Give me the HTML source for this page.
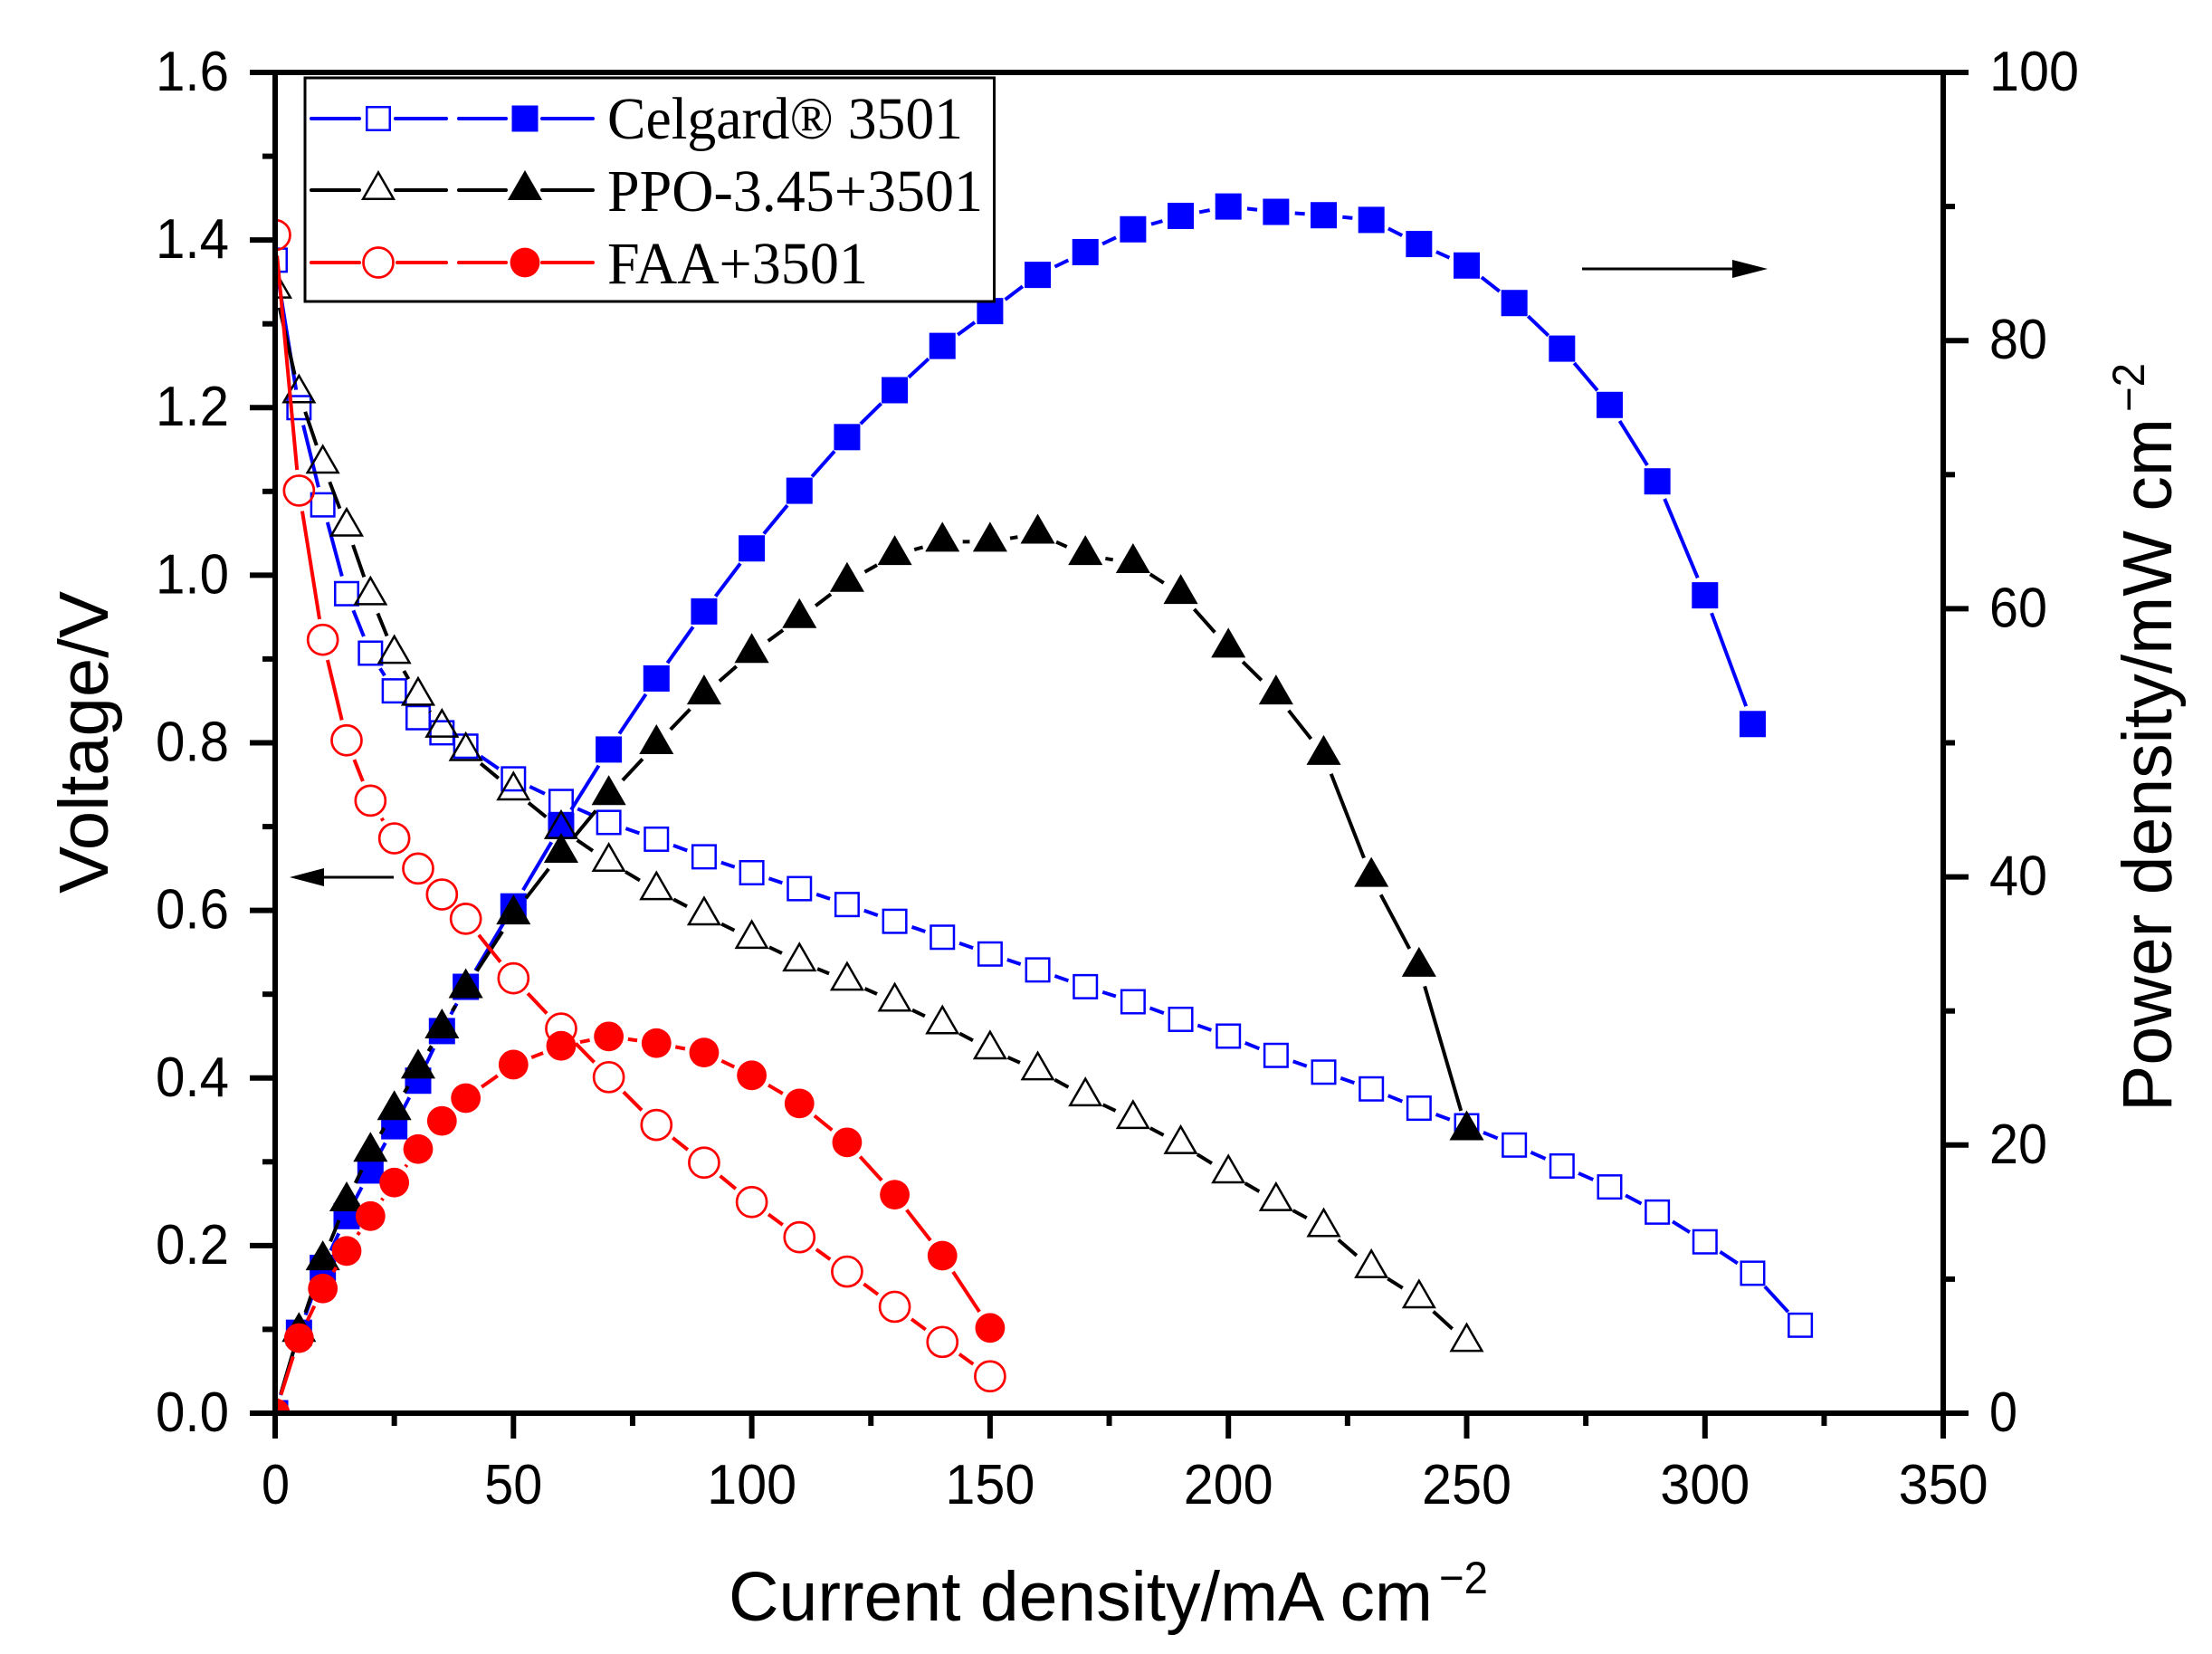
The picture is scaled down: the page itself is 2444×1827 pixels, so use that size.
<!DOCTYPE html>
<html>
<head>
<meta charset="utf-8">
<style>
html,body{margin:0;padding:0;background:#fff}
svg{display:block}
</style>
</head>
<body>
<svg width="2444" height="1827" viewBox="0 0 2444 1827">
<rect x="0" y="0" width="2444" height="1827" fill="#fff"/>
<defs>
<clipPath id="pc"><rect x="304" y="80" width="1843" height="1481"/></clipPath>
<!-- V-space markers -->
<g id="a1" transform="scale(0.189897 -0.00108038)"><rect x="-12.75" y="-12.75" width="25.5" height="25.5" fill="none" stroke="#0000ff" stroke-width="2.5"/></g>
<g id="a2" transform="scale(0.189897 -0.00108038)"><polygon points="0,-19.5 16.89,9.75 -16.89,9.75" fill="none" stroke="#000" stroke-width="2.5"/></g>
<g id="a3" transform="scale(0.189897 -0.00108038)"><circle r="16.5" fill="none" stroke="#ff0000" stroke-width="2.7"/></g>
<!-- P-space markers -->
<g id="b1" transform="scale(0.189897 -0.0675219)"><rect x="-14.5" y="-14.5" width="29" height="29" fill="#0000ff"/></g>
<g id="b2" transform="scale(0.189897 -0.0675219)"><polygon points="0,-22 19.05,11 -19.05,11" fill="#000"/></g>
<g id="b3" transform="scale(0.189897 -0.0675219)"><circle r="16.4" fill="#ff0000"/></g>
<!-- gap circles -->
<g id="g1" transform="scale(0.189897 -0.00108038)"><circle r="20" fill="#000"/></g>
<g id="g2" transform="scale(0.189897 -0.00108038)"><circle r="21.5" fill="#000"/></g>
<g id="g3" transform="scale(0.189897 -0.00108038)"><circle r="23" fill="#000"/></g>
<g id="h1" transform="scale(0.189897 -0.0675219)"><circle r="21" fill="#000"/></g>
<g id="h2" transform="scale(0.189897 -0.0675219)"><circle r="22.5" fill="#000"/></g>
<g id="h3" transform="scale(0.189897 -0.0675219)"><circle r="21.5" fill="#000"/></g>

<mask id="mCV" maskUnits="userSpaceOnUse" x="-100" y="-10" width="600" height="20">
<rect x="-100" y="-10" width="600" height="20" fill="#fff"/>
<use href="#g1" x="0" y="1.376"/><use href="#g1" x="5" y="1.2"/><use href="#g1" x="10" y="1.084"/><use href="#g1" x="15" y="0.978"/><use href="#g1" x="20" y="0.907"/><use href="#g1" x="25" y="0.862"/><use href="#g1" x="30" y="0.83"/><use href="#g1" x="35" y="0.812"/><use href="#g1" x="40" y="0.796"/><use href="#g1" x="50" y="0.757"/><use href="#g1" x="60" y="0.73"/><use href="#g1" x="70" y="0.705"/><use href="#g1" x="80" y="0.685"/><use href="#g1" x="90" y="0.664"/><use href="#g1" x="100" y="0.645"/><use href="#g1" x="110" y="0.626"/><use href="#g1" x="120" y="0.607"/><use href="#g1" x="130" y="0.587"/><use href="#g1" x="140" y="0.568"/><use href="#g1" x="150" y="0.548"/><use href="#g1" x="160" y="0.529"/><use href="#g1" x="170" y="0.509"/><use href="#g1" x="180" y="0.491"/><use href="#g1" x="190" y="0.47"/><use href="#g1" x="200" y="0.45"/><use href="#g1" x="210" y="0.427"/><use href="#g1" x="220" y="0.407"/><use href="#g1" x="230" y="0.387"/><use href="#g1" x="240" y="0.364"/><use href="#g1" x="250" y="0.343"/><use href="#g1" x="260" y="0.32"/><use href="#g1" x="270" y="0.295"/><use href="#g1" x="280" y="0.27"/><use href="#g1" x="290" y="0.24"/><use href="#g1" x="300" y="0.2045"/><use href="#g1" x="310" y="0.167"/><use href="#g1" x="320" y="0.105"/>
</mask>

<mask id="mCP" maskUnits="userSpaceOnUse" x="-100" y="-200" width="600" height="400">
<rect x="-100" y="-200" width="600" height="400" fill="#fff"/>
<use href="#h1" x="0" y="0"/><use href="#h1" x="5" y="6"/><use href="#h1" x="10" y="10.84"/><use href="#h1" x="15" y="14.7"/><use href="#h1" x="20" y="18.1"/><use href="#h1" x="25" y="21.4"/><use href="#h1" x="30" y="24.8"/><use href="#h1" x="35" y="28.5"/><use href="#h1" x="40" y="31.8"/><use href="#h1" x="50" y="37.8"/><use href="#h1" x="60" y="43.8"/><use href="#h1" x="70" y="49.5"/><use href="#h1" x="80" y="54.8"/><use href="#h1" x="90" y="59.8"/><use href="#h1" x="100" y="64.5"/><use href="#h1" x="110" y="68.8"/><use href="#h1" x="120" y="72.8"/><use href="#h1" x="130" y="76.3"/><use href="#h1" x="140" y="79.6"/><use href="#h1" x="150" y="82.2"/><use href="#h1" x="160" y="84.9"/><use href="#h1" x="170" y="86.6"/><use href="#h1" x="180" y="88.3"/><use href="#h1" x="190" y="89.3"/><use href="#h1" x="200" y="90"/><use href="#h1" x="210" y="89.6"/><use href="#h1" x="220" y="89.35"/><use href="#h1" x="230" y="89"/><use href="#h1" x="240" y="87.2"/><use href="#h1" x="250" y="85.6"/><use href="#h1" x="260" y="82.8"/><use href="#h1" x="270" y="79.4"/><use href="#h1" x="280" y="75.2"/><use href="#h1" x="290" y="69.5"/><use href="#h1" x="300" y="61"/><use href="#h1" x="310" y="51.4"/>
</mask>

<mask id="mPV" maskUnits="userSpaceOnUse" x="-100" y="-10" width="600" height="20">
<rect x="-100" y="-10" width="600" height="20" fill="#fff"/>
<use href="#g2" x="0" y="1.342"/><use href="#g2" x="5" y="1.217"/><use href="#g2" x="10" y="1.133"/><use href="#g2" x="15" y="1.058"/><use href="#g2" x="20" y="0.976"/><use href="#g2" x="25" y="0.906"/><use href="#g2" x="30" y="0.856"/><use href="#g2" x="35" y="0.818"/><use href="#g2" x="40" y="0.79"/><use href="#g2" x="50" y="0.743"/><use href="#g2" x="60" y="0.697"/><use href="#g2" x="70" y="0.658"/><use href="#g2" x="80" y="0.624"/><use href="#g2" x="90" y="0.594"/><use href="#g2" x="100" y="0.566"/><use href="#g2" x="110" y="0.539"/><use href="#g2" x="120" y="0.516"/><use href="#g2" x="130" y="0.491"/><use href="#g2" x="140" y="0.464"/><use href="#g2" x="150" y="0.434"/><use href="#g2" x="160" y="0.409"/><use href="#g2" x="170" y="0.378"/><use href="#g2" x="180" y="0.351"/><use href="#g2" x="190" y="0.321"/><use href="#g2" x="200" y="0.286"/><use href="#g2" x="210" y="0.253"/><use href="#g2" x="220" y="0.222"/><use href="#g2" x="230" y="0.173"/><use href="#g2" x="240" y="0.137"/><use href="#g2" x="250" y="0.085"/>
</mask>

<mask id="mPP" maskUnits="userSpaceOnUse" x="-100" y="-200" width="600" height="400">
<rect x="-100" y="-200" width="600" height="400" fill="#fff"/>
<use href="#h2" x="0" y="0"/><use href="#h2" x="5" y="6.06"/><use href="#h2" x="10" y="11.4"/><use href="#h2" x="15" y="15.8"/><use href="#h2" x="20" y="19.5"/><use href="#h2" x="25" y="22.6"/><use href="#h2" x="30" y="25.7"/><use href="#h2" x="35" y="28.7"/><use href="#h2" x="40" y="31.7"/><use href="#h2" x="50" y="37.2"/><use href="#h2" x="60" y="41.8"/><use href="#h2" x="70" y="46.1"/><use href="#h2" x="80" y="49.9"/><use href="#h2" x="90" y="53.6"/><use href="#h2" x="100" y="56.7"/><use href="#h2" x="110" y="59.3"/><use href="#h2" x="120" y="62"/><use href="#h2" x="130" y="64"/><use href="#h2" x="140" y="65"/><use href="#h2" x="150" y="65"/><use href="#h2" x="160" y="65.6"/><use href="#h2" x="170" y="64"/><use href="#h2" x="180" y="63.4"/><use href="#h2" x="190" y="61.1"/><use href="#h2" x="200" y="57.1"/><use href="#h2" x="210" y="53.6"/><use href="#h2" x="220" y="49.1"/><use href="#h2" x="230" y="40"/><use href="#h2" x="240" y="33.3"/><use href="#h2" x="250" y="21.1"/>
</mask>

<mask id="mFV" maskUnits="userSpaceOnUse" x="-100" y="-10" width="600" height="20">
<rect x="-100" y="-10" width="600" height="20" fill="#fff"/>
<use href="#g3" x="0" y="1.406"/><use href="#g3" x="5" y="1.101"/><use href="#g3" x="10" y="0.923"/><use href="#g3" x="15" y="0.803"/><use href="#g3" x="20" y="0.731"/><use href="#g3" x="25" y="0.686"/><use href="#g3" x="30" y="0.65"/><use href="#g3" x="35" y="0.619"/><use href="#g3" x="40" y="0.59"/><use href="#g3" x="50" y="0.519"/><use href="#g3" x="60" y="0.459"/><use href="#g3" x="70" y="0.401"/><use href="#g3" x="80" y="0.344"/><use href="#g3" x="90" y="0.299"/><use href="#g3" x="100" y="0.252"/><use href="#g3" x="110" y="0.21"/><use href="#g3" x="120" y="0.169"/><use href="#g3" x="130" y="0.127"/><use href="#g3" x="140" y="0.085"/><use href="#g3" x="150" y="0.044"/>
</mask>

<mask id="mFP" maskUnits="userSpaceOnUse" x="-100" y="-200" width="600" height="400">
<rect x="-100" y="-200" width="600" height="400" fill="#fff"/>
<use href="#h3" x="0" y="0"/><use href="#h3" x="5" y="5.6"/><use href="#h3" x="10" y="9.3"/><use href="#h3" x="15" y="12.1"/><use href="#h3" x="20" y="14.7"/><use href="#h3" x="25" y="17.2"/><use href="#h3" x="30" y="19.7"/><use href="#h3" x="35" y="21.8"/><use href="#h3" x="40" y="23.5"/><use href="#h3" x="50" y="26"/><use href="#h3" x="60" y="27.4"/><use href="#h3" x="70" y="28.1"/><use href="#h3" x="80" y="27.6"/><use href="#h3" x="90" y="26.9"/><use href="#h3" x="100" y="25.2"/><use href="#h3" x="110" y="23.1"/><use href="#h3" x="120" y="20.2"/><use href="#h3" x="130" y="16.3"/><use href="#h3" x="140" y="11.75"/><use href="#h3" x="150" y="6.36"/>
</mask>
</defs>

<!-- DATA -->
<g clip-path="url(#pc)">
 <!-- Celgard V -->
 <g transform="translate(304 1561) scale(5.266 -925.6)">
  <polyline mask="url(#mCV)" fill="none" stroke="#0000ff" stroke-width="4" vector-effect="non-scaling-stroke" stroke-linejoin="round" points="0,1.376 5,1.2 10,1.084 15,0.978 20,0.907 25,0.862 30,0.83 35,0.812 40,0.796 50,0.757 60,0.73 70,0.705 80,0.685 90,0.664 100,0.645 110,0.626 120,0.607 130,0.587 140,0.568 150,0.548 160,0.529 170,0.509 180,0.491 190,0.47 200,0.45 210,0.427 220,0.407 230,0.387 240,0.364 250,0.343 260,0.32 270,0.295 280,0.27 290,0.24 300,0.2045 310,0.167 320,0.105"/>
  <use href="#a1" x="0" y="1.376"/><use href="#a1" x="5" y="1.2"/><use href="#a1" x="10" y="1.084"/><use href="#a1" x="15" y="0.978"/><use href="#a1" x="20" y="0.907"/><use href="#a1" x="25" y="0.862"/><use href="#a1" x="30" y="0.83"/><use href="#a1" x="35" y="0.812"/><use href="#a1" x="40" y="0.796"/><use href="#a1" x="50" y="0.757"/><use href="#a1" x="60" y="0.73"/><use href="#a1" x="70" y="0.705"/><use href="#a1" x="80" y="0.685"/><use href="#a1" x="90" y="0.664"/><use href="#a1" x="100" y="0.645"/><use href="#a1" x="110" y="0.626"/><use href="#a1" x="120" y="0.607"/><use href="#a1" x="130" y="0.587"/><use href="#a1" x="140" y="0.568"/><use href="#a1" x="150" y="0.548"/><use href="#a1" x="160" y="0.529"/><use href="#a1" x="170" y="0.509"/><use href="#a1" x="180" y="0.491"/><use href="#a1" x="190" y="0.47"/><use href="#a1" x="200" y="0.45"/><use href="#a1" x="210" y="0.427"/><use href="#a1" x="220" y="0.407"/><use href="#a1" x="230" y="0.387"/><use href="#a1" x="240" y="0.364"/><use href="#a1" x="250" y="0.343"/><use href="#a1" x="260" y="0.32"/><use href="#a1" x="270" y="0.295"/><use href="#a1" x="280" y="0.27"/><use href="#a1" x="290" y="0.24"/><use href="#a1" x="300" y="0.2045"/><use href="#a1" x="310" y="0.167"/><use href="#a1" x="320" y="0.105"/>
 </g>
 <!-- Celgard P -->
 <g transform="translate(304 1561) scale(5.266 -14.81)">
  <polyline mask="url(#mCP)" fill="none" stroke="#0000ff" stroke-width="4" vector-effect="non-scaling-stroke" stroke-linejoin="round" points="0,0 5,6 10,10.84 15,14.7 20,18.1 25,21.4 30,24.8 35,28.5 40,31.8 50,37.8 60,43.8 70,49.5 80,54.8 90,59.8 100,64.5 110,68.8 120,72.8 130,76.3 140,79.6 150,82.2 160,84.9 170,86.6 180,88.3 190,89.3 200,90 210,89.6 220,89.35 230,89 240,87.2 250,85.6 260,82.8 270,79.4 280,75.2 290,69.5 300,61 310,51.4"/>
  <use href="#b1" x="0" y="0"/><use href="#b1" x="5" y="6"/><use href="#b1" x="10" y="10.84"/><use href="#b1" x="15" y="14.7"/><use href="#b1" x="20" y="18.1"/><use href="#b1" x="25" y="21.4"/><use href="#b1" x="30" y="24.8"/><use href="#b1" x="35" y="28.5"/><use href="#b1" x="40" y="31.8"/><use href="#b1" x="50" y="37.8"/><use href="#b1" x="60" y="43.8"/><use href="#b1" x="70" y="49.5"/><use href="#b1" x="80" y="54.8"/><use href="#b1" x="90" y="59.8"/><use href="#b1" x="100" y="64.5"/><use href="#b1" x="110" y="68.8"/><use href="#b1" x="120" y="72.8"/><use href="#b1" x="130" y="76.3"/><use href="#b1" x="140" y="79.6"/><use href="#b1" x="150" y="82.2"/><use href="#b1" x="160" y="84.9"/><use href="#b1" x="170" y="86.6"/><use href="#b1" x="180" y="88.3"/><use href="#b1" x="190" y="89.3"/><use href="#b1" x="200" y="90"/><use href="#b1" x="210" y="89.6"/><use href="#b1" x="220" y="89.35"/><use href="#b1" x="230" y="89"/><use href="#b1" x="240" y="87.2"/><use href="#b1" x="250" y="85.6"/><use href="#b1" x="260" y="82.8"/><use href="#b1" x="270" y="79.4"/><use href="#b1" x="280" y="75.2"/><use href="#b1" x="290" y="69.5"/><use href="#b1" x="300" y="61"/><use href="#b1" x="310" y="51.4"/>
 </g>
 <!-- PPO V -->
 <g transform="translate(304 1561) scale(5.266 -925.6)">
  <polyline mask="url(#mPV)" fill="none" stroke="#000" stroke-width="4" vector-effect="non-scaling-stroke" stroke-linejoin="round" points="0,1.342 5,1.217 10,1.133 15,1.058 20,0.976 25,0.906 30,0.856 35,0.818 40,0.79 50,0.743 60,0.697 70,0.658 80,0.624 90,0.594 100,0.566 110,0.539 120,0.516 130,0.491 140,0.464 150,0.434 160,0.409 170,0.378 180,0.351 190,0.321 200,0.286 210,0.253 220,0.222 230,0.173 240,0.137 250,0.085"/>
  <use href="#a2" x="0" y="1.342"/><use href="#a2" x="5" y="1.217"/><use href="#a2" x="10" y="1.133"/><use href="#a2" x="15" y="1.058"/><use href="#a2" x="20" y="0.976"/><use href="#a2" x="25" y="0.906"/><use href="#a2" x="30" y="0.856"/><use href="#a2" x="35" y="0.818"/><use href="#a2" x="40" y="0.79"/><use href="#a2" x="50" y="0.743"/><use href="#a2" x="60" y="0.697"/><use href="#a2" x="70" y="0.658"/><use href="#a2" x="80" y="0.624"/><use href="#a2" x="90" y="0.594"/><use href="#a2" x="100" y="0.566"/><use href="#a2" x="110" y="0.539"/><use href="#a2" x="120" y="0.516"/><use href="#a2" x="130" y="0.491"/><use href="#a2" x="140" y="0.464"/><use href="#a2" x="150" y="0.434"/><use href="#a2" x="160" y="0.409"/><use href="#a2" x="170" y="0.378"/><use href="#a2" x="180" y="0.351"/><use href="#a2" x="190" y="0.321"/><use href="#a2" x="200" y="0.286"/><use href="#a2" x="210" y="0.253"/><use href="#a2" x="220" y="0.222"/><use href="#a2" x="230" y="0.173"/><use href="#a2" x="240" y="0.137"/><use href="#a2" x="250" y="0.085"/>
 </g>
 <!-- PPO P -->
 <g transform="translate(304 1561) scale(5.266 -14.81)">
  <polyline mask="url(#mPP)" fill="none" stroke="#000" stroke-width="4" vector-effect="non-scaling-stroke" stroke-linejoin="round" points="0,0 5,6.06 10,11.4 15,15.8 20,19.5 25,22.6 30,25.7 35,28.7 40,31.7 50,37.2 60,41.8 70,46.1 80,49.9 90,53.6 100,56.7 110,59.3 120,62 130,64 140,65 150,65 160,65.6 170,64 180,63.4 190,61.1 200,57.1 210,53.6 220,49.1 230,40 240,33.3 250,21.1"/>
  <use href="#b2" x="0" y="0"/><use href="#b2" x="5" y="6.06"/><use href="#b2" x="10" y="11.4"/><use href="#b2" x="15" y="15.8"/><use href="#b2" x="20" y="19.5"/><use href="#b2" x="25" y="22.6"/><use href="#b2" x="30" y="25.7"/><use href="#b2" x="35" y="28.7"/><use href="#b2" x="40" y="31.7"/><use href="#b2" x="50" y="37.2"/><use href="#b2" x="60" y="41.8"/><use href="#b2" x="70" y="46.1"/><use href="#b2" x="80" y="49.9"/><use href="#b2" x="90" y="53.6"/><use href="#b2" x="100" y="56.7"/><use href="#b2" x="110" y="59.3"/><use href="#b2" x="120" y="62"/><use href="#b2" x="130" y="64"/><use href="#b2" x="140" y="65"/><use href="#b2" x="150" y="65"/><use href="#b2" x="160" y="65.6"/><use href="#b2" x="170" y="64"/><use href="#b2" x="180" y="63.4"/><use href="#b2" x="190" y="61.1"/><use href="#b2" x="200" y="57.1"/><use href="#b2" x="210" y="53.6"/><use href="#b2" x="220" y="49.1"/><use href="#b2" x="230" y="40"/><use href="#b2" x="240" y="33.3"/><use href="#b2" x="250" y="21.1"/>
 </g>
 <!-- FAA V -->
 <g transform="translate(304 1561) scale(5.266 -925.6)">
  <polyline mask="url(#mFV)" fill="none" stroke="#ff0000" stroke-width="4" vector-effect="non-scaling-stroke" stroke-linejoin="round" points="0,1.406 5,1.101 10,0.923 15,0.803 20,0.731 25,0.686 30,0.65 35,0.619 40,0.59 50,0.519 60,0.459 70,0.401 80,0.344 90,0.299 100,0.252 110,0.21 120,0.169 130,0.127 140,0.085 150,0.044"/>
  <use href="#a3" x="0" y="1.406"/><use href="#a3" x="5" y="1.101"/><use href="#a3" x="10" y="0.923"/><use href="#a3" x="15" y="0.803"/><use href="#a3" x="20" y="0.731"/><use href="#a3" x="25" y="0.686"/><use href="#a3" x="30" y="0.65"/><use href="#a3" x="35" y="0.619"/><use href="#a3" x="40" y="0.59"/><use href="#a3" x="50" y="0.519"/><use href="#a3" x="60" y="0.459"/><use href="#a3" x="70" y="0.401"/><use href="#a3" x="80" y="0.344"/><use href="#a3" x="90" y="0.299"/><use href="#a3" x="100" y="0.252"/><use href="#a3" x="110" y="0.21"/><use href="#a3" x="120" y="0.169"/><use href="#a3" x="130" y="0.127"/><use href="#a3" x="140" y="0.085"/><use href="#a3" x="150" y="0.044"/>
 </g>
 <!-- FAA P -->
 <g transform="translate(304 1561) scale(5.266 -14.81)">
  <polyline mask="url(#mFP)" fill="none" stroke="#ff0000" stroke-width="4" vector-effect="non-scaling-stroke" stroke-linejoin="round" points="0,0 5,5.6 10,9.3 15,12.1 20,14.7 25,17.2 30,19.7 35,21.8 40,23.5 50,26 60,27.4 70,28.1 80,27.6 90,26.9 100,25.2 110,23.1 120,20.2 130,16.3 140,11.75 150,6.36"/>
  <use href="#b3" x="0" y="0"/><use href="#b3" x="5" y="5.6"/><use href="#b3" x="10" y="9.3"/><use href="#b3" x="15" y="12.1"/><use href="#b3" x="20" y="14.7"/><use href="#b3" x="25" y="17.2"/><use href="#b3" x="30" y="19.7"/><use href="#b3" x="35" y="21.8"/><use href="#b3" x="40" y="23.5"/><use href="#b3" x="50" y="26"/><use href="#b3" x="60" y="27.4"/><use href="#b3" x="70" y="28.1"/><use href="#b3" x="80" y="27.6"/><use href="#b3" x="90" y="26.9"/><use href="#b3" x="100" y="25.2"/><use href="#b3" x="110" y="23.1"/><use href="#b3" x="120" y="20.2"/><use href="#b3" x="130" y="16.3"/><use href="#b3" x="140" y="11.75"/><use href="#b3" x="150" y="6.36"/>
 </g>
</g>

<!-- AXES FRAME -->
<rect x="304" y="80" width="1843" height="1481" fill="none" stroke="#000" stroke-width="6"/>
<g stroke="#000" stroke-width="6">
 <!-- left major -->
 <line x1="276" y1="1561" x2="304" y2="1561"/><line x1="276" y1="1375.9" x2="304" y2="1375.9"/><line x1="276" y1="1190.8" x2="304" y2="1190.8"/><line x1="276" y1="1005.6" x2="304" y2="1005.6"/><line x1="276" y1="820.5" x2="304" y2="820.5"/><line x1="276" y1="635.4" x2="304" y2="635.4"/><line x1="276" y1="450.2" x2="304" y2="450.2"/><line x1="276" y1="265.1" x2="304" y2="265.1"/><line x1="276" y1="80" x2="304" y2="80"/>
 <!-- left minor -->
 <line x1="290" y1="1468.4" x2="304" y2="1468.4"/><line x1="290" y1="1283.3" x2="304" y2="1283.3"/><line x1="290" y1="1098.2" x2="304" y2="1098.2"/><line x1="290" y1="913.1" x2="304" y2="913.1"/><line x1="290" y1="727.9" x2="304" y2="727.9"/><line x1="290" y1="542.8" x2="304" y2="542.8"/><line x1="290" y1="357.7" x2="304" y2="357.7"/><line x1="290" y1="172.6" x2="304" y2="172.6"/>
 <!-- bottom major -->
 <line x1="304" y1="1561" x2="304" y2="1589"/><line x1="567.3" y1="1561" x2="567.3" y2="1589"/><line x1="830.6" y1="1561" x2="830.6" y2="1589"/><line x1="1093.9" y1="1561" x2="1093.9" y2="1589"/><line x1="1357.2" y1="1561" x2="1357.2" y2="1589"/><line x1="1620.5" y1="1561" x2="1620.5" y2="1589"/><line x1="1883.8" y1="1561" x2="1883.8" y2="1589"/><line x1="2147" y1="1561" x2="2147" y2="1589"/>
 <!-- bottom minor -->
 <line x1="435.65" y1="1561" x2="435.65" y2="1575"/><line x1="698.95" y1="1561" x2="698.95" y2="1575"/><line x1="962.25" y1="1561" x2="962.25" y2="1575"/><line x1="1225.55" y1="1561" x2="1225.55" y2="1575"/><line x1="1488.85" y1="1561" x2="1488.85" y2="1575"/><line x1="1752.15" y1="1561" x2="1752.15" y2="1575"/><line x1="2015.45" y1="1561" x2="2015.45" y2="1575"/>
 <!-- right major -->
 <line x1="2147" y1="1561" x2="2175" y2="1561"/><line x1="2147" y1="1264.8" x2="2175" y2="1264.8"/><line x1="2147" y1="968.6" x2="2175" y2="968.6"/><line x1="2147" y1="672.4" x2="2175" y2="672.4"/><line x1="2147" y1="376.2" x2="2175" y2="376.2"/><line x1="2147" y1="80" x2="2175" y2="80"/>
 <!-- right minor -->
 <line x1="2147" y1="1412.9" x2="2160" y2="1412.9"/><line x1="2147" y1="1116.7" x2="2160" y2="1116.7"/><line x1="2147" y1="820.5" x2="2160" y2="820.5"/><line x1="2147" y1="524.3" x2="2160" y2="524.3"/><line x1="2147" y1="228.1" x2="2160" y2="228.1"/>
</g>

<!-- TICK LABELS -->
<g font-family="'Liberation Sans', Arial, sans-serif" font-size="62" fill="#000">
 <text x="172" y="1581" textLength="81" lengthAdjust="spacingAndGlyphs">0.0</text>
 <text x="172" y="1395.9" textLength="81" lengthAdjust="spacingAndGlyphs">0.2</text>
 <text x="172" y="1210.8" textLength="81" lengthAdjust="spacingAndGlyphs">0.4</text>
 <text x="172" y="1025.6" textLength="81" lengthAdjust="spacingAndGlyphs">0.6</text>
 <text x="172" y="840.5" textLength="81" lengthAdjust="spacingAndGlyphs">0.8</text>
 <text x="172" y="655.4" textLength="81" lengthAdjust="spacingAndGlyphs">1.0</text>
 <text x="172" y="470.2" textLength="81" lengthAdjust="spacingAndGlyphs">1.2</text>
 <text x="172" y="285.1" textLength="81" lengthAdjust="spacingAndGlyphs">1.4</text>
 <text x="172" y="100" textLength="81" lengthAdjust="spacingAndGlyphs">1.6</text>

 <text x="289" y="1661" textLength="31" lengthAdjust="spacingAndGlyphs">0</text>
 <text x="535.3" y="1661" textLength="64" lengthAdjust="spacingAndGlyphs">50</text>
 <text x="781.1" y="1661" textLength="99" lengthAdjust="spacingAndGlyphs">100</text>
 <text x="1044.4" y="1661" textLength="99" lengthAdjust="spacingAndGlyphs">150</text>
 <text x="1307.7" y="1661" textLength="99" lengthAdjust="spacingAndGlyphs">200</text>
 <text x="1571" y="1661" textLength="99" lengthAdjust="spacingAndGlyphs">250</text>
 <text x="1834.3" y="1661" textLength="99" lengthAdjust="spacingAndGlyphs">300</text>
 <text x="2097.6" y="1661" textLength="99" lengthAdjust="spacingAndGlyphs">350</text>

 <text x="2198" y="1581" textLength="31" lengthAdjust="spacingAndGlyphs">0</text>
 <text x="2198" y="1284.8" textLength="64" lengthAdjust="spacingAndGlyphs">20</text>
 <text x="2198" y="988.6" textLength="64" lengthAdjust="spacingAndGlyphs">40</text>
 <text x="2198" y="692.4" textLength="64" lengthAdjust="spacingAndGlyphs">60</text>
 <text x="2198" y="396.2" textLength="64" lengthAdjust="spacingAndGlyphs">80</text>
 <text x="2198" y="100" textLength="99" lengthAdjust="spacingAndGlyphs">100</text>
</g>

<!-- AXIS TITLES -->
<g font-family="'Liberation Sans', Arial, sans-serif" fill="#000">
 <text transform="translate(119 987) rotate(-90)" font-size="77" textLength="334" lengthAdjust="spacingAndGlyphs">Voltage/V</text>
 <text x="805" y="1790" font-size="77" textLength="778" lengthAdjust="spacingAndGlyphs">Current density/mA cm</text>
 <text x="1590" y="1760" font-size="50" textLength="54" lengthAdjust="spacingAndGlyphs">−2</text>
 <text transform="translate(2399 1228) rotate(-90)" font-size="77" textLength="766" lengthAdjust="spacingAndGlyphs">Power density/mW cm</text>
 <text transform="translate(2369 455) rotate(-90)" font-size="50" textLength="54" lengthAdjust="spacingAndGlyphs">−2</text>
</g>

<!-- ARROWS -->
<line x1="350" y1="969" x2="435" y2="969" stroke="#000" stroke-width="3"/>
<polygon points="320,969 358,959 358,979" fill="#000"/>
<line x1="1748" y1="297" x2="1920" y2="297" stroke="#000" stroke-width="3"/>
<polygon points="1953,297 1914,287 1914,307" fill="#000"/>

<!-- LEGEND -->
<rect x="337" y="86" width="761.5" height="247" fill="#fff" stroke="#000" stroke-width="3"/>
<g stroke-width="4" stroke-linecap="round">
 <line x1="344" y1="131" x2="397" y2="131" stroke="#0000ff"/><line x1="437" y1="131" x2="493" y2="131" stroke="#0000ff"/>
 <line x1="507" y1="131" x2="559" y2="131" stroke="#0000ff"/><line x1="599" y1="131" x2="655" y2="131" stroke="#0000ff"/>
 <line x1="344" y1="210" x2="397" y2="210" stroke="#000"/><line x1="437" y1="210" x2="493" y2="210" stroke="#000"/>
 <line x1="507" y1="210" x2="559" y2="210" stroke="#000"/><line x1="599" y1="210" x2="655" y2="210" stroke="#000"/>
 <line x1="344" y1="290" x2="397" y2="290" stroke="#ff0000"/><line x1="439" y1="290" x2="493" y2="290" stroke="#ff0000"/>
 <line x1="507" y1="290" x2="559" y2="290" stroke="#ff0000"/><line x1="599" y1="290" x2="655" y2="290" stroke="#ff0000"/>
</g>
<rect x="405.25" y="118.25" width="25.5" height="25.5" fill="none" stroke="#0000ff" stroke-width="2.5"/>
<rect x="565.5" y="116.5" width="29" height="29" fill="#0000ff"/>
<polygon points="418,190.5 434.89,219.75 401.11,219.75" fill="none" stroke="#000" stroke-width="2.5"/>
<polygon points="580,188 599.05,221 560.95,221" fill="#000"/>
<circle cx="418" cy="290" r="16.5" fill="none" stroke="#ff0000" stroke-width="2.7"/>
<circle cx="580" cy="290" r="16.4" fill="#ff0000"/>
<g font-family="'Liberation Serif', 'Times New Roman', serif" font-size="66" fill="#000">
 <text x="671" y="153" textLength="393" lengthAdjust="spacingAndGlyphs">Celgard® 3501</text>
 <text x="671" y="233" textLength="415" lengthAdjust="spacingAndGlyphs">PPO-3.45+3501</text>
 <text x="671" y="313" textLength="288" lengthAdjust="spacingAndGlyphs">FAA+3501</text>
</g>
</svg>
</body>
</html>
